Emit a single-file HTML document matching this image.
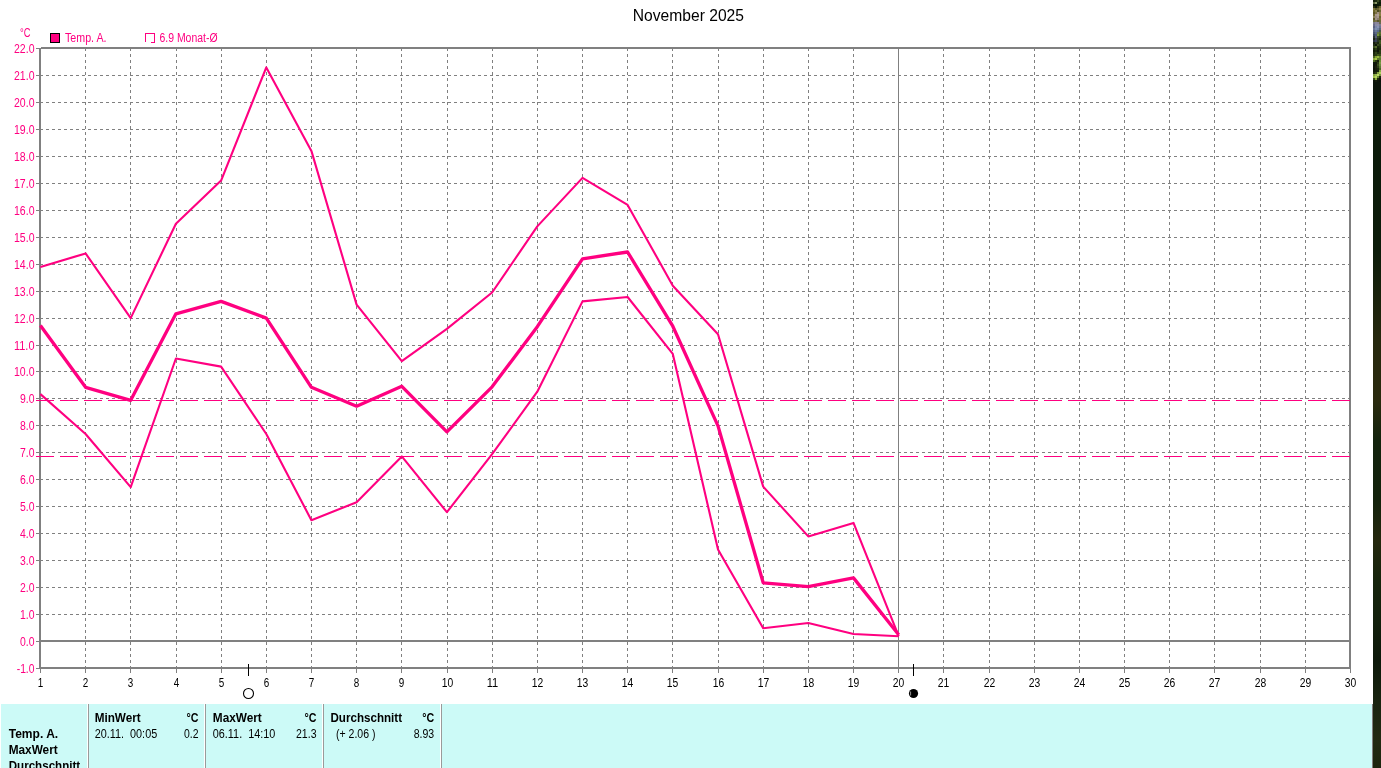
<!DOCTYPE html>
<html lang="de"><head><meta charset="utf-8"><title>November 2025</title>
<style>html,body{margin:0;padding:0;background:#fff;overflow:hidden}body{width:1381px;height:768px;position:relative;font-family:"Liberation Sans",Arial,sans-serif}svg{position:absolute;left:0;top:0;display:block}text{font-family:"Liberation Sans",Arial,sans-serif}.g{stroke:#808080;stroke-width:1;stroke-dasharray:3 3;shape-rendering:crispEdges;fill:none}.s{stroke:#808080;shape-rendering:crispEdges;fill:none}.p{stroke:#ff0080;fill:none;stroke-linejoin:round;stroke-linecap:butt}.yl{fill:#ff0080;font-size:12px}.xl{fill:#000;font-size:12px;text-anchor:middle}.b{font-weight:bold;font-size:12px;fill:#000}.n{font-size:12px;fill:#000}</style></head><body>
<svg width="1381" height="768" viewBox="0 0 1381 768">
<rect x="0" y="0" width="1381" height="768" fill="#fff"/>
<rect x="1" y="704" width="1371" height="64" fill="#ccfaf7"/>
<defs><linearGradient id="ph" x1="0" y1="0" x2="0" y2="1">
<stop offset="0.0000" stop-color="#0b140a"/>
<stop offset="0.1068" stop-color="#0b140a"/>
<stop offset="0.1562" stop-color="#0b1a0a"/>
<stop offset="0.3255" stop-color="#0c1c0a"/>
<stop offset="0.4427" stop-color="#26280e"/>
<stop offset="0.5208" stop-color="#2a2a0e"/>
<stop offset="0.5729" stop-color="#13230d"/>
<stop offset="0.6510" stop-color="#13220c"/>
<stop offset="0.7031" stop-color="#24280e"/>
<stop offset="0.7552" stop-color="#16240c"/>
<stop offset="0.8073" stop-color="#12200c"/>
<stop offset="0.8594" stop-color="#0c180a"/>
<stop offset="0.9115" stop-color="#182410"/>
<stop offset="0.9635" stop-color="#222a12"/>
<stop offset="1.0000" stop-color="#1c260e"/>
</linearGradient></defs>
<rect x="1373" y="0" width="8" height="768" fill="url(#ph)"/>
<rect x="1373" y="0" width="2" height="2" fill="#16240e" shape-rendering="crispEdges"/>
<rect x="1375" y="0" width="2" height="2" fill="#1e2e12" shape-rendering="crispEdges"/>
<rect x="1377" y="0" width="2" height="2" fill="#3a4a24" shape-rendering="crispEdges"/>
<rect x="1379" y="0" width="2" height="2" fill="#1a280e" shape-rendering="crispEdges"/>
<rect x="1373" y="2" width="2" height="2" fill="#5a6840" shape-rendering="crispEdges"/>
<rect x="1375" y="2" width="2" height="2" fill="#8a9868" shape-rendering="crispEdges"/>
<rect x="1377" y="2" width="2" height="2" fill="#1a2a10" shape-rendering="crispEdges"/>
<rect x="1379" y="2" width="2" height="2" fill="#0c1a08" shape-rendering="crispEdges"/>
<rect x="1373" y="4" width="2" height="2" fill="#0a1606" shape-rendering="crispEdges"/>
<rect x="1375" y="4" width="2" height="2" fill="#0a1606" shape-rendering="crispEdges"/>
<rect x="1377" y="4" width="2" height="2" fill="#0c1a08" shape-rendering="crispEdges"/>
<rect x="1379" y="4" width="2" height="2" fill="#142208" shape-rendering="crispEdges"/>
<rect x="1373" y="6" width="2" height="2" fill="#2a3010" shape-rendering="crispEdges"/>
<rect x="1375" y="6" width="2" height="2" fill="#0e1a08" shape-rendering="crispEdges"/>
<rect x="1377" y="6" width="2" height="2" fill="#3a3c18" shape-rendering="crispEdges"/>
<rect x="1379" y="6" width="2" height="2" fill="#6a6630" shape-rendering="crispEdges"/>
<rect x="1373" y="8" width="2" height="2" fill="#7a7438" shape-rendering="crispEdges"/>
<rect x="1375" y="8" width="2" height="2" fill="#5a5a28" shape-rendering="crispEdges"/>
<rect x="1377" y="8" width="2" height="2" fill="#6a6430" shape-rendering="crispEdges"/>
<rect x="1379" y="8" width="2" height="2" fill="#8a8048" shape-rendering="crispEdges"/>
<rect x="1373" y="10" width="2" height="2" fill="#6a6428" shape-rendering="crispEdges"/>
<rect x="1375" y="10" width="2" height="2" fill="#8a8250" shape-rendering="crispEdges"/>
<rect x="1377" y="10" width="2" height="2" fill="#4a4a20" shape-rendering="crispEdges"/>
<rect x="1379" y="10" width="2" height="2" fill="#6a6634" shape-rendering="crispEdges"/>
<rect x="1373" y="12" width="2" height="2" fill="#5a5424" shape-rendering="crispEdges"/>
<rect x="1375" y="12" width="2" height="2" fill="#7a7040" shape-rendering="crispEdges"/>
<rect x="1377" y="12" width="2" height="2" fill="#a09080" shape-rendering="crispEdges"/>
<rect x="1379" y="12" width="2" height="2" fill="#8a7a50" shape-rendering="crispEdges"/>
<rect x="1373" y="14" width="2" height="2" fill="#6a6230" shape-rendering="crispEdges"/>
<rect x="1375" y="14" width="2" height="2" fill="#a89888" shape-rendering="crispEdges"/>
<rect x="1377" y="14" width="2" height="2" fill="#b0a098" shape-rendering="crispEdges"/>
<rect x="1379" y="14" width="2" height="2" fill="#8a8040" shape-rendering="crispEdges"/>
<rect x="1373" y="16" width="2" height="2" fill="#8a8058" shape-rendering="crispEdges"/>
<rect x="1375" y="16" width="2" height="2" fill="#9a8a80" shape-rendering="crispEdges"/>
<rect x="1377" y="16" width="2" height="2" fill="#a89890" shape-rendering="crispEdges"/>
<rect x="1379" y="16" width="2" height="2" fill="#6a6430" shape-rendering="crispEdges"/>
<rect x="1373" y="18" width="2" height="2" fill="#5a5428" shape-rendering="crispEdges"/>
<rect x="1375" y="18" width="2" height="2" fill="#a09488" shape-rendering="crispEdges"/>
<rect x="1377" y="18" width="2" height="2" fill="#8a7c70" shape-rendering="crispEdges"/>
<rect x="1379" y="18" width="2" height="2" fill="#7a7238" shape-rendering="crispEdges"/>
<rect x="1373" y="20" width="2" height="2" fill="#6a6a38" shape-rendering="crispEdges"/>
<rect x="1375" y="20" width="2" height="2" fill="#7a7048" shape-rendering="crispEdges"/>
<rect x="1377" y="20" width="2" height="2" fill="#5a5830" shape-rendering="crispEdges"/>
<rect x="1379" y="20" width="2" height="2" fill="#6a6838" shape-rendering="crispEdges"/>
<rect x="1373" y="22" width="2" height="2" fill="#7a7888" shape-rendering="crispEdges"/>
<rect x="1375" y="22" width="2" height="2" fill="#8a88a0" shape-rendering="crispEdges"/>
<rect x="1377" y="22" width="2" height="2" fill="#8a8498" shape-rendering="crispEdges"/>
<rect x="1379" y="22" width="2" height="2" fill="#6a6a50" shape-rendering="crispEdges"/>
<rect x="1373" y="24" width="2" height="2" fill="#6a6c88" shape-rendering="crispEdges"/>
<rect x="1375" y="24" width="2" height="2" fill="#8a8ca8" shape-rendering="crispEdges"/>
<rect x="1377" y="24" width="2" height="2" fill="#9090a8" shape-rendering="crispEdges"/>
<rect x="1379" y="24" width="2" height="2" fill="#7a7c90" shape-rendering="crispEdges"/>
<rect x="1373" y="26" width="2" height="2" fill="#5a6080" shape-rendering="crispEdges"/>
<rect x="1375" y="26" width="2" height="2" fill="#7a86a8" shape-rendering="crispEdges"/>
<rect x="1377" y="26" width="2" height="2" fill="#8a94b4" shape-rendering="crispEdges"/>
<rect x="1379" y="26" width="2" height="2" fill="#6a7490" shape-rendering="crispEdges"/>
<rect x="1373" y="28" width="2" height="2" fill="#6a7494" shape-rendering="crispEdges"/>
<rect x="1375" y="28" width="2" height="2" fill="#8090b0" shape-rendering="crispEdges"/>
<rect x="1377" y="28" width="2" height="2" fill="#7484a4" shape-rendering="crispEdges"/>
<rect x="1379" y="28" width="2" height="2" fill="#5a6878" shape-rendering="crispEdges"/>
<rect x="1373" y="30" width="2" height="2" fill="#5a6484" shape-rendering="crispEdges"/>
<rect x="1375" y="30" width="2" height="2" fill="#6a7898" shape-rendering="crispEdges"/>
<rect x="1377" y="30" width="2" height="2" fill="#5a6a88" shape-rendering="crispEdges"/>
<rect x="1379" y="30" width="2" height="2" fill="#4a5a48" shape-rendering="crispEdges"/>
<rect x="1373" y="32" width="2" height="2" fill="#4a5470" shape-rendering="crispEdges"/>
<rect x="1375" y="32" width="2" height="2" fill="#5a6888" shape-rendering="crispEdges"/>
<rect x="1377" y="32" width="2" height="2" fill="#66784a" shape-rendering="crispEdges"/>
<rect x="1379" y="32" width="2" height="2" fill="#5a7030" shape-rendering="crispEdges"/>
<rect x="1373" y="34" width="2" height="2" fill="#3a4458" shape-rendering="crispEdges"/>
<rect x="1375" y="34" width="2" height="2" fill="#4a5870" shape-rendering="crispEdges"/>
<rect x="1377" y="34" width="2" height="2" fill="#7a9838" shape-rendering="crispEdges"/>
<rect x="1379" y="34" width="2" height="2" fill="#4a6428" shape-rendering="crispEdges"/>
<rect x="1373" y="36" width="2" height="2" fill="#2a3430" shape-rendering="crispEdges"/>
<rect x="1375" y="36" width="2" height="2" fill="#5a6078" shape-rendering="crispEdges"/>
<rect x="1377" y="36" width="2" height="2" fill="#3a4a28" shape-rendering="crispEdges"/>
<rect x="1379" y="36" width="2" height="2" fill="#2a3a18" shape-rendering="crispEdges"/>
<rect x="1373" y="38" width="2" height="2" fill="#1a2414" shape-rendering="crispEdges"/>
<rect x="1375" y="38" width="2" height="2" fill="#3a4050" shape-rendering="crispEdges"/>
<rect x="1377" y="38" width="2" height="2" fill="#2a3620" shape-rendering="crispEdges"/>
<rect x="1379" y="38" width="2" height="2" fill="#1c2a10" shape-rendering="crispEdges"/>
<rect x="1373" y="40" width="2" height="2" fill="#2a3040" shape-rendering="crispEdges"/>
<rect x="1375" y="40" width="2" height="2" fill="#3a4058" shape-rendering="crispEdges"/>
<rect x="1377" y="40" width="2" height="2" fill="#2a3828" shape-rendering="crispEdges"/>
<rect x="1379" y="40" width="2" height="2" fill="#3a5020" shape-rendering="crispEdges"/>
<rect x="1373" y="42" width="2" height="2" fill="#141e0e" shape-rendering="crispEdges"/>
<rect x="1375" y="42" width="2" height="2" fill="#2a3420" shape-rendering="crispEdges"/>
<rect x="1377" y="42" width="2" height="2" fill="#1a2810" shape-rendering="crispEdges"/>
<rect x="1379" y="42" width="2" height="2" fill="#40581e" shape-rendering="crispEdges"/>
<rect x="1373" y="44" width="2" height="2" fill="#202c14" shape-rendering="crispEdges"/>
<rect x="1375" y="44" width="2" height="2" fill="#0e1808" shape-rendering="crispEdges"/>
<rect x="1377" y="44" width="2" height="2" fill="#3a4a20" shape-rendering="crispEdges"/>
<rect x="1379" y="44" width="2" height="2" fill="#2c3c16" shape-rendering="crispEdges"/>
<rect x="1373" y="46" width="2" height="2" fill="#3a4c20" shape-rendering="crispEdges"/>
<rect x="1375" y="46" width="2" height="2" fill="#56702c" shape-rendering="crispEdges"/>
<rect x="1377" y="46" width="2" height="2" fill="#1a260e" shape-rendering="crispEdges"/>
<rect x="1379" y="46" width="2" height="2" fill="#20300e" shape-rendering="crispEdges"/>
<rect x="1373" y="48" width="2" height="2" fill="#1a2a0c" shape-rendering="crispEdges"/>
<rect x="1375" y="48" width="2" height="2" fill="#2a3c14" shape-rendering="crispEdges"/>
<rect x="1377" y="48" width="2" height="2" fill="#141e0a" shape-rendering="crispEdges"/>
<rect x="1379" y="48" width="2" height="2" fill="#1a2a0c" shape-rendering="crispEdges"/>
<rect x="1373" y="50" width="2" height="2" fill="#101a08" shape-rendering="crispEdges"/>
<rect x="1375" y="50" width="2" height="2" fill="#1c2a0e" shape-rendering="crispEdges"/>
<rect x="1377" y="50" width="2" height="2" fill="#0e160a" shape-rendering="crispEdges"/>
<rect x="1379" y="50" width="2" height="2" fill="#2a3c14" shape-rendering="crispEdges"/>
<rect x="1373" y="52" width="2" height="2" fill="#1a280c" shape-rendering="crispEdges"/>
<rect x="1375" y="52" width="2" height="2" fill="#30441a" shape-rendering="crispEdges"/>
<rect x="1377" y="52" width="2" height="2" fill="#1c2c0e" shape-rendering="crispEdges"/>
<rect x="1379" y="52" width="2" height="2" fill="#283a12" shape-rendering="crispEdges"/>
<rect x="1373" y="54" width="2" height="2" fill="#223010" shape-rendering="crispEdges"/>
<rect x="1375" y="54" width="2" height="2" fill="#2a3c14" shape-rendering="crispEdges"/>
<rect x="1377" y="54" width="2" height="2" fill="#40581e" shape-rendering="crispEdges"/>
<rect x="1379" y="54" width="2" height="2" fill="#384e1a" shape-rendering="crispEdges"/>
<rect x="1373" y="56" width="2" height="2" fill="#4a6420" shape-rendering="crispEdges"/>
<rect x="1375" y="56" width="2" height="2" fill="#80a030" shape-rendering="crispEdges"/>
<rect x="1377" y="56" width="2" height="2" fill="#98b840" shape-rendering="crispEdges"/>
<rect x="1379" y="56" width="2" height="2" fill="#6a8a30" shape-rendering="crispEdges"/>
<rect x="1373" y="58" width="2" height="2" fill="#88a838" shape-rendering="crispEdges"/>
<rect x="1375" y="58" width="2" height="2" fill="#a8c848" shape-rendering="crispEdges"/>
<rect x="1377" y="58" width="2" height="2" fill="#5a7828" shape-rendering="crispEdges"/>
<rect x="1379" y="58" width="2" height="2" fill="#5a7a30" shape-rendering="crispEdges"/>
<rect x="1373" y="60" width="2" height="2" fill="#4a6820" shape-rendering="crispEdges"/>
<rect x="1375" y="60" width="2" height="2" fill="#283810" shape-rendering="crispEdges"/>
<rect x="1377" y="60" width="2" height="2" fill="#141e0a" shape-rendering="crispEdges"/>
<rect x="1379" y="60" width="2" height="2" fill="#6a8a38" shape-rendering="crispEdges"/>
<rect x="1373" y="62" width="2" height="2" fill="#0e160a" shape-rendering="crispEdges"/>
<rect x="1375" y="62" width="2" height="2" fill="#101808" shape-rendering="crispEdges"/>
<rect x="1377" y="62" width="2" height="2" fill="#2a3a16" shape-rendering="crispEdges"/>
<rect x="1379" y="62" width="2" height="2" fill="#7a9a48" shape-rendering="crispEdges"/>
<rect x="1373" y="64" width="2" height="2" fill="#0c1408" shape-rendering="crispEdges"/>
<rect x="1375" y="64" width="2" height="2" fill="#12180a" shape-rendering="crispEdges"/>
<rect x="1377" y="64" width="2" height="2" fill="#3a4c20" shape-rendering="crispEdges"/>
<rect x="1379" y="64" width="2" height="2" fill="#6a8a40" shape-rendering="crispEdges"/>
<rect x="1373" y="66" width="2" height="2" fill="#0e140a" shape-rendering="crispEdges"/>
<rect x="1375" y="66" width="2" height="2" fill="#1a200e" shape-rendering="crispEdges"/>
<rect x="1377" y="66" width="2" height="2" fill="#2c3c18" shape-rendering="crispEdges"/>
<rect x="1379" y="66" width="2" height="2" fill="#5a7a34" shape-rendering="crispEdges"/>
<rect x="1373" y="68" width="2" height="2" fill="#0c1208" shape-rendering="crispEdges"/>
<rect x="1375" y="68" width="2" height="2" fill="#161c0c" shape-rendering="crispEdges"/>
<rect x="1377" y="68" width="2" height="2" fill="#1a260e" shape-rendering="crispEdges"/>
<rect x="1379" y="68" width="2" height="2" fill="#4a6828" shape-rendering="crispEdges"/>
<rect x="1373" y="70" width="2" height="2" fill="#0e160a" shape-rendering="crispEdges"/>
<rect x="1375" y="70" width="2" height="2" fill="#121a0a" shape-rendering="crispEdges"/>
<rect x="1377" y="70" width="2" height="2" fill="#14200c" shape-rendering="crispEdges"/>
<rect x="1379" y="70" width="2" height="2" fill="#88a848" shape-rendering="crispEdges"/>
<rect x="1373" y="72" width="2" height="2" fill="#1a240e" shape-rendering="crispEdges"/>
<rect x="1375" y="72" width="2" height="2" fill="#2a3814" shape-rendering="crispEdges"/>
<rect x="1377" y="72" width="2" height="2" fill="#80a040" shape-rendering="crispEdges"/>
<rect x="1379" y="72" width="2" height="2" fill="#b0d060" shape-rendering="crispEdges"/>
<rect x="1373" y="74" width="2" height="2" fill="#80a040" shape-rendering="crispEdges"/>
<rect x="1375" y="74" width="2" height="2" fill="#98b850" shape-rendering="crispEdges"/>
<rect x="1377" y="74" width="2" height="2" fill="#c0dc68" shape-rendering="crispEdges"/>
<rect x="1379" y="74" width="2" height="2" fill="#7a9a40" shape-rendering="crispEdges"/>
<rect x="1373" y="76" width="2" height="2" fill="#a0c048" shape-rendering="crispEdges"/>
<rect x="1375" y="76" width="2" height="2" fill="#b8d860" shape-rendering="crispEdges"/>
<rect x="1377" y="76" width="2" height="2" fill="#6a8a30" shape-rendering="crispEdges"/>
<rect x="1379" y="76" width="2" height="2" fill="#1a260e" shape-rendering="crispEdges"/>
<rect x="1373" y="78" width="2" height="2" fill="#34481a" shape-rendering="crispEdges"/>
<rect x="1375" y="78" width="2" height="2" fill="#88a838" shape-rendering="crispEdges"/>
<rect x="1377" y="78" width="2" height="2" fill="#1c280e" shape-rendering="crispEdges"/>
<rect x="1379" y="78" width="2" height="2" fill="#0c140a" shape-rendering="crispEdges"/>
<rect x="1373" y="80" width="2" height="2" fill="#0c140a" shape-rendering="crispEdges"/>
<rect x="1375" y="80" width="2" height="2" fill="#141c0c" shape-rendering="crispEdges"/>
<rect x="1377" y="80" width="2" height="2" fill="#0c140a" shape-rendering="crispEdges"/>
<rect x="1379" y="80" width="2" height="2" fill="#0a1008" shape-rendering="crispEdges"/>
<line class="s" x1="1372.5" y1="704" x2="1372.5" y2="768" stroke-width="1" stroke="#8a9a98"/>
<line class="s" x1="36" y1="614.5" x2="40" y2="614.5" stroke-width="1"/>
<line class="g" x1="40" y1="614.5" x2="1349" y2="614.5"/>
<line class="s" x1="36" y1="587.5" x2="40" y2="587.5" stroke-width="1"/>
<line class="g" x1="40" y1="587.5" x2="1349" y2="587.5"/>
<line class="s" x1="36" y1="560.5" x2="40" y2="560.5" stroke-width="1"/>
<line class="g" x1="40" y1="560.5" x2="1349" y2="560.5"/>
<line class="s" x1="36" y1="533.5" x2="40" y2="533.5" stroke-width="1"/>
<line class="g" x1="40" y1="533.5" x2="1349" y2="533.5"/>
<line class="s" x1="36" y1="506.5" x2="40" y2="506.5" stroke-width="1"/>
<line class="g" x1="40" y1="506.5" x2="1349" y2="506.5"/>
<line class="s" x1="36" y1="479.5" x2="40" y2="479.5" stroke-width="1"/>
<line class="g" x1="40" y1="479.5" x2="1349" y2="479.5"/>
<line class="s" x1="36" y1="452.5" x2="40" y2="452.5" stroke-width="1"/>
<line class="g" x1="40" y1="452.5" x2="1349" y2="452.5"/>
<line class="s" x1="36" y1="425.5" x2="40" y2="425.5" stroke-width="1"/>
<line class="g" x1="40" y1="425.5" x2="1349" y2="425.5"/>
<line class="s" x1="36" y1="398.5" x2="40" y2="398.5" stroke-width="1"/>
<line class="g" x1="40" y1="398.5" x2="1349" y2="398.5"/>
<line class="s" x1="36" y1="371.5" x2="40" y2="371.5" stroke-width="1"/>
<line class="g" x1="40" y1="371.5" x2="1349" y2="371.5"/>
<line class="s" x1="36" y1="345.5" x2="40" y2="345.5" stroke-width="1"/>
<line class="g" x1="40" y1="345.5" x2="1349" y2="345.5"/>
<line class="s" x1="36" y1="318.5" x2="40" y2="318.5" stroke-width="1"/>
<line class="g" x1="40" y1="318.5" x2="1349" y2="318.5"/>
<line class="s" x1="36" y1="291.5" x2="40" y2="291.5" stroke-width="1"/>
<line class="g" x1="40" y1="291.5" x2="1349" y2="291.5"/>
<line class="s" x1="36" y1="264.5" x2="40" y2="264.5" stroke-width="1"/>
<line class="g" x1="40" y1="264.5" x2="1349" y2="264.5"/>
<line class="s" x1="36" y1="237.5" x2="40" y2="237.5" stroke-width="1"/>
<line class="g" x1="40" y1="237.5" x2="1349" y2="237.5"/>
<line class="s" x1="36" y1="210.5" x2="40" y2="210.5" stroke-width="1"/>
<line class="g" x1="40" y1="210.5" x2="1349" y2="210.5"/>
<line class="s" x1="36" y1="183.5" x2="40" y2="183.5" stroke-width="1"/>
<line class="g" x1="40" y1="183.5" x2="1349" y2="183.5"/>
<line class="s" x1="36" y1="156.5" x2="40" y2="156.5" stroke-width="1"/>
<line class="g" x1="40" y1="156.5" x2="1349" y2="156.5"/>
<line class="s" x1="36" y1="129.5" x2="40" y2="129.5" stroke-width="1"/>
<line class="g" x1="40" y1="129.5" x2="1349" y2="129.5"/>
<line class="s" x1="36" y1="102.5" x2="40" y2="102.5" stroke-width="1"/>
<line class="g" x1="40" y1="102.5" x2="1349" y2="102.5"/>
<line class="s" x1="36" y1="75.5" x2="40" y2="75.5" stroke-width="1"/>
<line class="g" x1="40" y1="75.5" x2="1349" y2="75.5"/>
<line class="s" x1="36" y1="48.5" x2="40" y2="48.5" stroke-width="1"/>
<line class="s" x1="36" y1="641.5" x2="40" y2="641.5" stroke-width="1"/>
<line class="s" x1="36" y1="668.5" x2="40" y2="668.5" stroke-width="1"/>
<line class="g" x1="85.5" y1="48" x2="85.5" y2="669"/>
<line class="s" x1="85.5" y1="669" x2="85.5" y2="673" stroke-width="1"/>
<line class="g" x1="130.5" y1="48" x2="130.5" y2="669"/>
<line class="s" x1="130.5" y1="669" x2="130.5" y2="673" stroke-width="1"/>
<line class="g" x1="176.5" y1="48" x2="176.5" y2="669"/>
<line class="s" x1="176.5" y1="669" x2="176.5" y2="673" stroke-width="1"/>
<line class="g" x1="221.5" y1="48" x2="221.5" y2="669"/>
<line class="s" x1="221.5" y1="669" x2="221.5" y2="673" stroke-width="1"/>
<line class="g" x1="266.5" y1="48" x2="266.5" y2="669"/>
<line class="s" x1="266.5" y1="669" x2="266.5" y2="673" stroke-width="1"/>
<line class="g" x1="311.5" y1="48" x2="311.5" y2="669"/>
<line class="s" x1="311.5" y1="669" x2="311.5" y2="673" stroke-width="1"/>
<line class="g" x1="356.5" y1="48" x2="356.5" y2="669"/>
<line class="s" x1="356.5" y1="669" x2="356.5" y2="673" stroke-width="1"/>
<line class="g" x1="401.5" y1="48" x2="401.5" y2="669"/>
<line class="s" x1="401.5" y1="669" x2="401.5" y2="673" stroke-width="1"/>
<line class="g" x1="447.5" y1="48" x2="447.5" y2="669"/>
<line class="s" x1="447.5" y1="669" x2="447.5" y2="673" stroke-width="1"/>
<line class="g" x1="492.5" y1="48" x2="492.5" y2="669"/>
<line class="s" x1="492.5" y1="669" x2="492.5" y2="673" stroke-width="1"/>
<line class="g" x1="537.5" y1="48" x2="537.5" y2="669"/>
<line class="s" x1="537.5" y1="669" x2="537.5" y2="673" stroke-width="1"/>
<line class="g" x1="582.5" y1="48" x2="582.5" y2="669"/>
<line class="s" x1="582.5" y1="669" x2="582.5" y2="673" stroke-width="1"/>
<line class="g" x1="627.5" y1="48" x2="627.5" y2="669"/>
<line class="s" x1="627.5" y1="669" x2="627.5" y2="673" stroke-width="1"/>
<line class="g" x1="672.5" y1="48" x2="672.5" y2="669"/>
<line class="s" x1="672.5" y1="669" x2="672.5" y2="673" stroke-width="1"/>
<line class="g" x1="718.5" y1="48" x2="718.5" y2="669"/>
<line class="s" x1="718.5" y1="669" x2="718.5" y2="673" stroke-width="1"/>
<line class="g" x1="763.5" y1="48" x2="763.5" y2="669"/>
<line class="s" x1="763.5" y1="669" x2="763.5" y2="673" stroke-width="1"/>
<line class="g" x1="808.5" y1="48" x2="808.5" y2="669"/>
<line class="s" x1="808.5" y1="669" x2="808.5" y2="673" stroke-width="1"/>
<line class="g" x1="853.5" y1="48" x2="853.5" y2="669"/>
<line class="s" x1="853.5" y1="669" x2="853.5" y2="673" stroke-width="1"/>
<line class="g" x1="943.5" y1="48" x2="943.5" y2="669"/>
<line class="s" x1="943.5" y1="669" x2="943.5" y2="673" stroke-width="1"/>
<line class="g" x1="989.5" y1="48" x2="989.5" y2="669"/>
<line class="s" x1="989.5" y1="669" x2="989.5" y2="673" stroke-width="1"/>
<line class="g" x1="1034.5" y1="48" x2="1034.5" y2="669"/>
<line class="s" x1="1034.5" y1="669" x2="1034.5" y2="673" stroke-width="1"/>
<line class="g" x1="1079.5" y1="48" x2="1079.5" y2="669"/>
<line class="s" x1="1079.5" y1="669" x2="1079.5" y2="673" stroke-width="1"/>
<line class="g" x1="1124.5" y1="48" x2="1124.5" y2="669"/>
<line class="s" x1="1124.5" y1="669" x2="1124.5" y2="673" stroke-width="1"/>
<line class="g" x1="1169.5" y1="48" x2="1169.5" y2="669"/>
<line class="s" x1="1169.5" y1="669" x2="1169.5" y2="673" stroke-width="1"/>
<line class="g" x1="1214.5" y1="48" x2="1214.5" y2="669"/>
<line class="s" x1="1214.5" y1="669" x2="1214.5" y2="673" stroke-width="1"/>
<line class="g" x1="1260.5" y1="48" x2="1260.5" y2="669"/>
<line class="s" x1="1260.5" y1="669" x2="1260.5" y2="673" stroke-width="1"/>
<line class="g" x1="1305.5" y1="48" x2="1305.5" y2="669"/>
<line class="s" x1="1305.5" y1="669" x2="1305.5" y2="673" stroke-width="1"/>
<line class="s" x1="898.5" y1="49" x2="898.5" y2="673" stroke-width="1"/>
<line class="s" x1="40.5" y1="669" x2="40.5" y2="673" stroke-width="1"/>
<line class="s" x1="1350.5" y1="669" x2="1350.5" y2="673" stroke-width="1"/>
<path d="M41 47H1351V669H39V48H41V667H1349V49H41Z" fill="#808080" shape-rendering="crispEdges"/>
<line class="s" x1="40" y1="641" x2="1350" y2="641" stroke-width="2"/>
<line x1="36" y1="400.5" x2="1350" y2="400.5" stroke="#ff0080" stroke-width="1" stroke-dasharray="18 6" shape-rendering="crispEdges"/>
<line x1="36" y1="456.5" x2="1350" y2="456.5" stroke="#ff0080" stroke-width="1" stroke-dasharray="18 6" shape-rendering="crispEdges"/>
<polyline class="p" points="40.4,266.9 85.6,253.4 130.7,318.1 175.9,223.7 221.1,180.6 266.3,67.4 311.4,150.9 356.6,304.6 401.8,361.2 446.9,328.9 492.1,292.5 537.3,226.4 582.5,177.9 627.6,204.9 672.8,285.7 718.0,334.2 763.2,486.6 808.3,536.4 853.5,522.9 898.7,636.2" stroke-width="2.1"/>
<polyline class="p" points="40.4,394.1 85.6,434.0 130.7,487.1 175.9,358.5 221.1,366.6 266.3,434.0 311.4,520.2 356.6,502.2 401.8,456.4 446.9,512.2 492.1,454.2 537.3,391.7 582.5,301.4 627.6,297.0 672.8,353.9 718.0,549.4 763.2,628.3 808.3,623.0 853.5,634.0 898.7,636.2" stroke-width="2.1"/>
<polyline class="p" points="40.4,325.6 85.6,387.3 130.7,400.3 175.9,313.8 221.1,301.4 266.3,318.1 311.4,387.3 356.6,406.2 401.8,386.3 446.9,431.8 492.1,386.8 537.3,326.7 582.5,258.8 627.6,252.0 672.8,326.2 718.0,425.9 763.2,582.8 808.3,586.6 853.5,577.9 898.7,634.8" stroke-width="3.3"/>
<text x="632.8" y="21" font-size="16.5px" fill="#000" textLength="111.2" lengthAdjust="spacingAndGlyphs">November 2025</text>
<text class="yl" x="20" y="37" textLength="10.5" lengthAdjust="spacingAndGlyphs">°C</text>
<rect x="50.5" y="33.5" width="9" height="9" fill="#ff0080" stroke="#000" stroke-width="1" shape-rendering="crispEdges"/>
<text class="yl" x="65" y="42" textLength="41.5" lengthAdjust="spacingAndGlyphs">Temp. A.</text>
<path d="M145.5 42V33.5H154.5V42.5H151" fill="none" stroke="#ff0080" stroke-width="1" shape-rendering="crispEdges"/>
<text class="yl" x="159.5" y="42" textLength="58" lengthAdjust="spacingAndGlyphs">6.9 Monat-Ø</text>
<text class="yl" x="16.7" y="673" textLength="17.8" lengthAdjust="spacingAndGlyphs">-1.0</text>
<text class="yl" x="20.0" y="646" textLength="14.5" lengthAdjust="spacingAndGlyphs">0.0</text>
<text class="yl" x="20.0" y="619" textLength="14.5" lengthAdjust="spacingAndGlyphs">1.0</text>
<text class="yl" x="20.0" y="592" textLength="14.5" lengthAdjust="spacingAndGlyphs">2.0</text>
<text class="yl" x="20.0" y="565" textLength="14.5" lengthAdjust="spacingAndGlyphs">3.0</text>
<text class="yl" x="20.0" y="538" textLength="14.5" lengthAdjust="spacingAndGlyphs">4.0</text>
<text class="yl" x="20.0" y="511" textLength="14.5" lengthAdjust="spacingAndGlyphs">5.0</text>
<text class="yl" x="20.0" y="484" textLength="14.5" lengthAdjust="spacingAndGlyphs">6.0</text>
<text class="yl" x="20.0" y="457" textLength="14.5" lengthAdjust="spacingAndGlyphs">7.0</text>
<text class="yl" x="20.0" y="430" textLength="14.5" lengthAdjust="spacingAndGlyphs">8.0</text>
<text class="yl" x="20.0" y="403" textLength="14.5" lengthAdjust="spacingAndGlyphs">9.0</text>
<text class="yl" x="14.0" y="376" textLength="20.5" lengthAdjust="spacingAndGlyphs">10.0</text>
<text class="yl" x="14.0" y="350" textLength="20.5" lengthAdjust="spacingAndGlyphs">11.0</text>
<text class="yl" x="14.0" y="323" textLength="20.5" lengthAdjust="spacingAndGlyphs">12.0</text>
<text class="yl" x="14.0" y="296" textLength="20.5" lengthAdjust="spacingAndGlyphs">13.0</text>
<text class="yl" x="14.0" y="269" textLength="20.5" lengthAdjust="spacingAndGlyphs">14.0</text>
<text class="yl" x="14.0" y="242" textLength="20.5" lengthAdjust="spacingAndGlyphs">15.0</text>
<text class="yl" x="14.0" y="215" textLength="20.5" lengthAdjust="spacingAndGlyphs">16.0</text>
<text class="yl" x="14.0" y="188" textLength="20.5" lengthAdjust="spacingAndGlyphs">17.0</text>
<text class="yl" x="14.0" y="161" textLength="20.5" lengthAdjust="spacingAndGlyphs">18.0</text>
<text class="yl" x="14.0" y="134" textLength="20.5" lengthAdjust="spacingAndGlyphs">19.0</text>
<text class="yl" x="14.0" y="107" textLength="20.5" lengthAdjust="spacingAndGlyphs">20.0</text>
<text class="yl" x="14.0" y="80" textLength="20.5" lengthAdjust="spacingAndGlyphs">21.0</text>
<text class="yl" x="14.0" y="53" textLength="20.5" lengthAdjust="spacingAndGlyphs">22.0</text>
<text class="xl" x="40.5" y="687" textLength="5.5" lengthAdjust="spacingAndGlyphs">1</text>
<text class="xl" x="85.5" y="687" textLength="5.5" lengthAdjust="spacingAndGlyphs">2</text>
<text class="xl" x="130.5" y="687" textLength="5.5" lengthAdjust="spacingAndGlyphs">3</text>
<text class="xl" x="176.5" y="687" textLength="5.5" lengthAdjust="spacingAndGlyphs">4</text>
<text class="xl" x="221.5" y="687" textLength="5.5" lengthAdjust="spacingAndGlyphs">5</text>
<text class="xl" x="266.5" y="687" textLength="5.5" lengthAdjust="spacingAndGlyphs">6</text>
<text class="xl" x="311.5" y="687" textLength="5.5" lengthAdjust="spacingAndGlyphs">7</text>
<text class="xl" x="356.5" y="687" textLength="5.5" lengthAdjust="spacingAndGlyphs">8</text>
<text class="xl" x="401.5" y="687" textLength="5.5" lengthAdjust="spacingAndGlyphs">9</text>
<text class="xl" x="447.5" y="687" textLength="11.5" lengthAdjust="spacingAndGlyphs">10</text>
<text class="xl" x="492.5" y="687" textLength="11.5" lengthAdjust="spacingAndGlyphs">11</text>
<text class="xl" x="537.5" y="687" textLength="11.5" lengthAdjust="spacingAndGlyphs">12</text>
<text class="xl" x="582.5" y="687" textLength="11.5" lengthAdjust="spacingAndGlyphs">13</text>
<text class="xl" x="627.5" y="687" textLength="11.5" lengthAdjust="spacingAndGlyphs">14</text>
<text class="xl" x="672.5" y="687" textLength="11.5" lengthAdjust="spacingAndGlyphs">15</text>
<text class="xl" x="718.5" y="687" textLength="11.5" lengthAdjust="spacingAndGlyphs">16</text>
<text class="xl" x="763.5" y="687" textLength="11.5" lengthAdjust="spacingAndGlyphs">17</text>
<text class="xl" x="808.5" y="687" textLength="11.5" lengthAdjust="spacingAndGlyphs">18</text>
<text class="xl" x="853.5" y="687" textLength="11.5" lengthAdjust="spacingAndGlyphs">19</text>
<text class="xl" x="898.5" y="687" textLength="11.5" lengthAdjust="spacingAndGlyphs">20</text>
<text class="xl" x="943.5" y="687" textLength="11.5" lengthAdjust="spacingAndGlyphs">21</text>
<text class="xl" x="989.5" y="687" textLength="11.5" lengthAdjust="spacingAndGlyphs">22</text>
<text class="xl" x="1034.5" y="687" textLength="11.5" lengthAdjust="spacingAndGlyphs">23</text>
<text class="xl" x="1079.5" y="687" textLength="11.5" lengthAdjust="spacingAndGlyphs">24</text>
<text class="xl" x="1124.5" y="687" textLength="11.5" lengthAdjust="spacingAndGlyphs">25</text>
<text class="xl" x="1169.5" y="687" textLength="11.5" lengthAdjust="spacingAndGlyphs">26</text>
<text class="xl" x="1214.5" y="687" textLength="11.5" lengthAdjust="spacingAndGlyphs">27</text>
<text class="xl" x="1260.5" y="687" textLength="11.5" lengthAdjust="spacingAndGlyphs">28</text>
<text class="xl" x="1305.5" y="687" textLength="11.5" lengthAdjust="spacingAndGlyphs">29</text>
<text class="xl" x="1350.5" y="687" textLength="11.5" lengthAdjust="spacingAndGlyphs">30</text>
<line x1="248.5" y1="664" x2="248.5" y2="676" stroke="#000" stroke-width="1" shape-rendering="crispEdges"/>
<circle cx="248.5" cy="693.5" r="5" fill="#fff" stroke="#000" stroke-width="1.1"/>
<line x1="913.5" y1="664" x2="913.5" y2="676" stroke="#000" stroke-width="1" shape-rendering="crispEdges"/>
<circle cx="913.5" cy="693.5" r="4.6" fill="#000"/>
<path d="M910.6 691.5v4" stroke="#bbb" stroke-width="0.8" fill="none"/>
<rect x="87" y="704" width="1" height="64" fill="#fff"/><rect x="88" y="704" width="1" height="64" fill="#9a9a9a"/>
<rect x="204" y="704" width="1" height="64" fill="#fff"/><rect x="205" y="704" width="1" height="64" fill="#9a9a9a"/>
<rect x="322" y="704" width="1" height="64" fill="#fff"/><rect x="323" y="704" width="1" height="64" fill="#9a9a9a"/>
<rect x="440" y="704" width="1" height="64" fill="#fff"/><rect x="441" y="704" width="1" height="64" fill="#9a9a9a"/>
<text class="b" x="8.7" y="738" textLength="49.5" lengthAdjust="spacingAndGlyphs" style="white-space:pre">Temp. A.</text>
<text class="b" x="8.7" y="754" textLength="49" lengthAdjust="spacingAndGlyphs" style="white-space:pre">MaxWert</text>
<text class="b" x="8.7" y="770" textLength="71.5" lengthAdjust="spacingAndGlyphs" style="white-space:pre">Durchschnitt</text>
<text class="b" x="94.7" y="722" textLength="46" lengthAdjust="spacingAndGlyphs" style="white-space:pre">MinWert</text>
<text class="b" x="186.5" y="722" textLength="12" lengthAdjust="spacingAndGlyphs" style="white-space:pre">°C</text>
<text class="n" x="94.7" y="738" textLength="62.5" lengthAdjust="spacingAndGlyphs" style="white-space:pre">20.11.  00:05</text>
<text class="n" x="184.0" y="738" textLength="14.5" lengthAdjust="spacingAndGlyphs" style="white-space:pre">0.2</text>
<text class="b" x="212.8" y="722" textLength="49" lengthAdjust="spacingAndGlyphs" style="white-space:pre">MaxWert</text>
<text class="b" x="304.5" y="722" textLength="12" lengthAdjust="spacingAndGlyphs" style="white-space:pre">°C</text>
<text class="n" x="212.8" y="738" textLength="62.5" lengthAdjust="spacingAndGlyphs" style="white-space:pre">06.11.  14:10</text>
<text class="n" x="296.0" y="738" textLength="20.5" lengthAdjust="spacingAndGlyphs" style="white-space:pre">21.3</text>
<text class="b" x="330.5" y="722" textLength="71.5" lengthAdjust="spacingAndGlyphs" style="white-space:pre">Durchschnitt</text>
<text class="b" x="422.2" y="722" textLength="12" lengthAdjust="spacingAndGlyphs" style="white-space:pre">°C</text>
<text class="n" x="336" y="738" textLength="39.5" lengthAdjust="spacingAndGlyphs" style="white-space:pre">(+ 2.06 )</text>
<text class="n" x="413.7" y="738" textLength="20.5" lengthAdjust="spacingAndGlyphs" style="white-space:pre">8.93</text>
</svg></body></html>
